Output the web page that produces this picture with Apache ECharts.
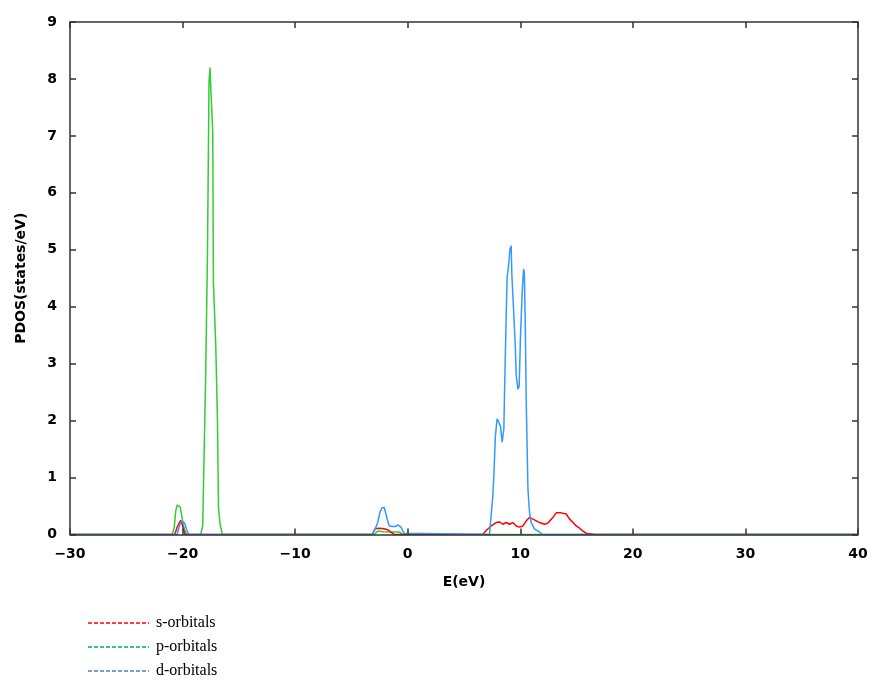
<!DOCTYPE html>
<html>
<head>
<meta charset="utf-8">
<script src="https://cdn.jsdelivr.net/npm/echarts@6/dist/echarts.min.js"></script>
<style>
html,body{margin:0;padding:0;background:#fff;}
#chart{width:889px;height:690px;}
</style>
</head>
<body>
<div id="chart"></div>
<script>
// ---- data ----
var xTicks = [-30, -20, -10, 0, 10, 20, 30, 40];
var yTicks = [0, 1, 2, 3, 4, 5, 6, 7, 8, 9];

var sE   = [-30, -20.69, -20.48, -20.3, -20.17, -20.04, -19.9, -19.77,
            -3.16, -2.9, -2.55, -2.1, -1.75, -1.4, -1.2,
            6.67, 6.97, 7.41, 7.86, 8.15, 8.45, 8.75, 9.05, 9.34, 9.64, 9.93, 10.23, 10.53, 10.82, 11.12, 11.42, 11.71, 12.15, 12.45, 12.9, 13.19, 13.64, 14.08, 14.38, 14.68, 14.97, 15.27, 15.57, 15.86, 16.6, 40];
var sDos = [0, 0, 0.13, 0.2, 0.25, 0.18, 0.08, 0,
            0, 0.1, 0.11, 0.1, 0.08, 0.03, 0,
            0, 0.07, 0.15, 0.21, 0.22, 0.18, 0.21, 0.18, 0.21, 0.15, 0.13, 0.15, 0.24, 0.3, 0.27, 0.24, 0.21, 0.18, 0.2, 0.3, 0.38, 0.38, 0.36, 0.27, 0.21, 0.15, 0.11, 0.06, 0.02, 0, 0];

var pE   = [-30, -20.92, -20.74, -20.61, -20.48, -20.35, -20.21, -20.08, -19.95, -19.81, -19.63,
            -18.39, -18.21, -18.1, -17.95, -17.79, -17.65, -17.56, -17.5, -17.32, -17.26, -17.05, -16.9, -16.81, -16.67, -16.46,
            -3.0, -2.64, -2.2, -1.5, -0.77, -0.42, 40];
var pDos = [0, 0, 0.13, 0.41, 0.52, 0.54, 0.48, 0.34, 0.18, 0.08, 0,
            0, 0.16, 1.27, 2.79, 4.89, 7.96, 8.2, 7.87, 7.08, 4.42, 3.31, 2.0, 0.48, 0.18, 0,
            0, 0.06, 0.05, 0.045, 0.045, 0, 0];

var dE   = [-30, -20.48, -20.26, -20.08, -19.95, -19.81, -19.63, -19.45,
            -3.17, -2.88, -2.67, -2.46, -2.29, -2.08, -1.93, -1.78, -1.64, -1.33, -1.1, -0.89, -0.75, -0.6, -0.45, -0.3, -0.21,
            7.26, 7.41, 7.56, 7.65, 7.79, 7.94, 8.1, 8.24, 8.39, 8.54, 8.6, 8.67, 8.75, 8.83, 8.99, 9.07, 9.19, 9.25, 9.4, 9.55,
            9.64, 9.79, 9.9, 10.02, 10.17, 10.29, 10.36, 10.44, 10.53, 10.68, 10.82, 10.97, 11.26, 11.71, 12.0, 40];
var dDos = [0, 0, 0.17, 0.24, 0.27, 0.2, 0.08, 0,
            0, 0.1, 0.21, 0.39, 0.47, 0.47, 0.36, 0.24, 0.15, 0.14, 0.14, 0.17, 0.14, 0.13, 0.07, 0.02, 0,
            0, 0.33, 0.68, 1.03, 1.73, 2.03, 1.97, 1.9, 1.62, 1.85, 2.49, 2.5, 3.87, 4.51, 4.78, 5.0, 5.07, 4.57, 3.96, 3.34,
            2.79, 2.55, 2.6, 3.49, 4.25, 4.66, 4.6, 3.72, 2.32, 0.8, 0.39, 0.21, 0.1, 0.04, 0, 0];

var seriesNames = ['s-orbitals', 'p-orbitals', 'd-orbitals'];
var lineColors  = ['#ff0000', '#33cc33', '#3399ff'];
var legendColors = ['#ff0000', '#00b050', '#4f81bd'];

function pairs(xs, ys) { return xs.map(function (x, i) { return [x, ys[i]]; }); }

var chart = echarts.init(document.getElementById('chart'), null, {renderer: 'canvas'});
var tickFont = {fontFamily: 'DejaVu Sans', fontWeight: 'bold', fontSize: 14, color: '#000'};
var axisLine = {show: true, onZero: false, lineStyle: {color: '#333', width: 1.5}};
var tick = {show: true, inside: true, length: 6, lineStyle: {color: '#333', width: 1.5}};

var legendGraphics = [];
seriesNames.forEach(function (n, i) {
  var y = 623 + i * 24;
  legendGraphics.push({
    type: 'line', shape: {x1: 88, y1: y, x2: 149, y2: y},
    style: {stroke: legendColors[i], lineWidth: 1.5, lineDash: [4, 2]}
  });
  legendGraphics.push({
    type: 'text', x: 156, y: y,
    style: {text: n, fontFamily: 'Liberation Serif', fontSize: 16, fill: '#000', verticalAlign: 'middle'}
  });
});

chart.setOption({
  animation: false,
  backgroundColor: '#fff',
  grid: {left: 70, right: 31, top: 22, bottom: 155.5, containLabel: false},
  xAxis: [{
    type: 'value', min: xTicks[0], max: xTicks[xTicks.length - 1], interval: 10,
    z: 10,
    name: 'E(eV)', nameLocation: 'middle', nameGap: 41,
    nameTextStyle: tickFont,
    axisLine: axisLine, axisTick: tick,
    axisLabel: Object.assign({margin: 13, formatter: function (v) { return String(v).replace('-', '\u2212'); }}, tickFont),
    splitLine: {show: false}
  }, {
    type: 'value', position: 'top', min: xTicks[0], max: xTicks[xTicks.length - 1], interval: 10,
    z: 10,
    axisLine: axisLine, axisTick: tick,
    axisLabel: {show: false},
    splitLine: {show: false}
  }],
  yAxis: [{
    type: 'value', min: yTicks[0], max: yTicks[yTicks.length - 1], interval: 1,
    z: 10,
    name: 'PDOS(states/eV)', nameLocation: 'middle', nameGap: 42, nameRotate: 90,
    nameTextStyle: tickFont,
    axisLine: axisLine, axisTick: tick,
    axisLabel: Object.assign({margin: 13}, tickFont),
    splitLine: {show: false}
  }, {
    type: 'value', position: 'right', min: yTicks[0], max: yTicks[yTicks.length - 1], interval: 1,
    z: 10,
    axisLine: axisLine, axisTick: tick,
    axisLabel: {show: false},
    splitLine: {show: false}
  }],
  series: [
    {name: seriesNames[0], type: 'line', data: pairs(sE, sDos), showSymbol: false, z: 3,
     lineStyle: {color: lineColors[0], width: 1.5}, itemStyle: {color: lineColors[0]}},
    {name: seriesNames[1], type: 'line', data: pairs(pE, pDos), showSymbol: false, z: 2,
     lineStyle: {color: lineColors[1], width: 1.5}, itemStyle: {color: lineColors[1]}},
    {name: seriesNames[2], type: 'line', data: pairs(dE, dDos), showSymbol: false, z: 4,
     lineStyle: {color: lineColors[2], width: 1.5}, itemStyle: {color: lineColors[2]}}
  ],
  graphic: legendGraphics
});
</script>
</body>
</html>
